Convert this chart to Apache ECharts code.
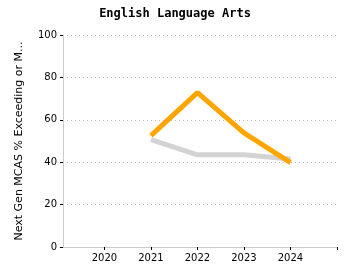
<!DOCTYPE html>
<html lang="en">
<head>
    <meta charset="UTF-8">
    <script src="https://cdn.jsdelivr.net/npm/echarts@6/dist/echarts.min.js"></script>
    <title>English Language Arts</title>
    <style>
        html, body { margin: 0; padding: 0; background: #fff; }
    </style>
</head>
<body>
<div id="main" style="width: 350px;height:280px;"></div>
<script type="text/javascript">
    // data
    var years = [2021, 2022, 2023, 2024];
    var schoolValues = [52.5, 72.8, 53.8, 39.8];
    var stateValues = [50.7, 43.5, 43.5, 41.5];
    var yearLabels = [2020, 2021, 2022, 2023, 2024];

    function pairs(xs, ys) {
        return xs.map(function (x, i) { return [x, ys[i]]; });
    }

    var myChart = echarts.init(document.getElementById('main'));

    var option = {
        animation: false,
        title: {
            text: 'English Language Arts',
            left: 'center',
            top: 3,
            textStyle: {
                fontFamily: 'DejaVu Sans Mono',
                fontWeight: 'bold',
                fontSize: 12,
                color: '#000'
            }
        },
        grid: {
            left: 63,
            right: 13,
            top: 35,
            bottom: 33,
            containLabel: false,
            outerBoundsMode: 'none'
        },
        xAxis: {
            type: 'value',
            min: 2019.11,
            max: 2025,
            splitLine: { show: false },
            axisLine: { lineStyle: { color: '#ccc' } },
            axisTick: { show: true, length: 3, lineStyle: { color: '#000' } },
            axisLabel: {
                fontFamily: 'DejaVu Sans',
                fontSize: 10,
                color: '#000',
                margin: 6,
                showMinLabel: false,
                formatter: function (v) {
                    return yearLabels.indexOf(v) >= 0 ? String(v) : '';
                }
            }
        },
        yAxis: {
            type: 'value',
            min: 0,
            max: 100,
            interval: 20,
            name: 'Next Gen MCAS % Exceeding or Meeting Expectations',
            nameLocation: 'middle',
            nameGap: 38,
            nameTruncate: { maxWidth: 206, ellipsis: '...' },
            nameTextStyle: {
                fontFamily: 'DejaVu Sans',
                fontSize: 11,
                color: '#000'
            },
            axisLine: { show: true, lineStyle: { color: '#ccc' } },
            axisTick: { show: true, length: 3, lineStyle: { color: '#000' } },
            axisLabel: {
                fontFamily: 'DejaVu Sans',
                fontSize: 10,
                color: '#000',
                margin: 6
            },
            splitLine: {
                show: true,
                lineStyle: { color: '#bbb', type: [1, 3] }
            }
        },
        series: [
            {
                name: 'State',
                type: 'line',
                data: pairs(years, stateValues),
                showSymbol: false,
                lineStyle: { color: '#d3d3d3', width: 5 },
                z: 1
            },
            {
                name: 'School',
                type: 'line',
                data: pairs(years, schoolValues),
                showSymbol: false,
                lineStyle: { color: '#ffa500', width: 5 },
                z: 2
            }
        ]
    };

    myChart.setOption(option);
</script>
</body>
</html>
